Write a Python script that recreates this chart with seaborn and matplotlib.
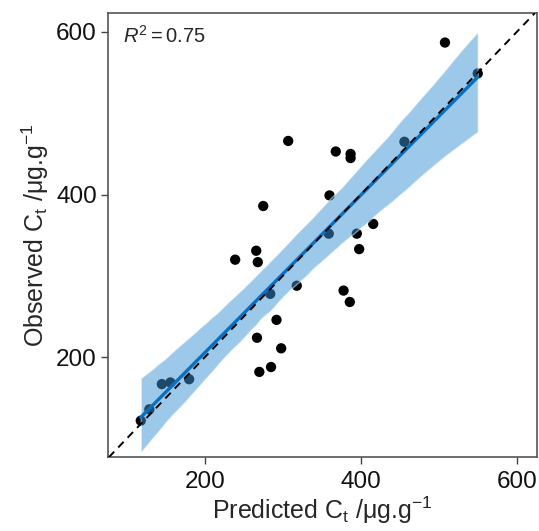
import matplotlib
matplotlib.use("Agg")
import matplotlib.pyplot as plt
import seaborn as sns
import pandas as pd
import numpy as np

# ==== Data ====
predicted = [508, 550, 307, 368, 387, 387, 456, 360, 275, 416,
             359, 395, 398, 266, 239, 268, 318, 284, 378, 386,
             292, 267, 298, 285, 270, 145, 156, 180, 129, 118]
observed = [587, 549, 466, 453, 450, 445, 465, 399, 386, 364,
            352, 352, 333, 331, 320, 317, 288, 278, 282, 268,
            246, 224, 211, 188, 182, 167, 169, 173, 136, 122]
ticks = [200, 400, 600]
r2_label = r"$R^2 = 0.75$"

df = pd.DataFrame({"predicted": predicted, "observed": observed})

# ==== Style ====
sns.set_style("white")
plt.rcParams["font.family"] = ["Liberation Sans", "DejaVu Sans"]
plt.rcParams["mathtext.fontset"] = "custom"
plt.rcParams["mathtext.rm"] = "Liberation Sans"
plt.rcParams["mathtext.it"] = "Liberation Sans:italic"

fig = plt.figure(figsize=(5.39, 5.31), dpi=100)
ax = fig.add_axes([0.2004, 0.1388, 0.7959, 0.8362])

# points first, band drawn over them
sns.scatterplot(data=df, x="predicted", y="observed", color="black",
                s=55, edgecolor="none", ax=ax, zorder=1)
sns.regplot(data=df, x="predicted", y="observed", scatter=False, ci=98, seed=3,
            color="#0B6FBF", line_kws={"lw": 2.4, "zorder": 3}, ax=ax)
for coll in ax.collections[1:]:
    coll.set_facecolor("#3B93D7")
    coll.set_alpha(0.5)
    coll.set_zorder(2)

ax.axline((0, 0), slope=1, color="black", ls=(0, (4, 3)), lw=1.4, zorder=4)

ax.set_xlim(76, 626)
ax.set_ylim(77, 623)
ax.set_xticks(ticks)
ax.set_yticks(ticks)
ax.tick_params(axis="both", direction="out", length=5, width=1, color="#444444",
               labelsize=17.5, labelcolor="#111111", bottom=True, left=True)
ax.tick_params(axis="x", pad=5)
ax.tick_params(axis="y", pad=3)
for sp in ax.spines.values():
    sp.set_color("#555555")
    sp.set_linewidth(1.2)

ax.set_xlabel(r"Predicted C$_\mathrm{t}$ /μg.g$^{-1}$", fontsize=18, labelpad=1)
ax.set_ylabel(r"Observed C$_\mathrm{t}$ /μg.g$^{-1}$", fontsize=18, labelpad=4)
ax.text(0.035, 0.95, r2_label, transform=ax.transAxes, fontsize=14.5,
        ha="left", va="center")

fig.savefig("out.png", dpi=100)
